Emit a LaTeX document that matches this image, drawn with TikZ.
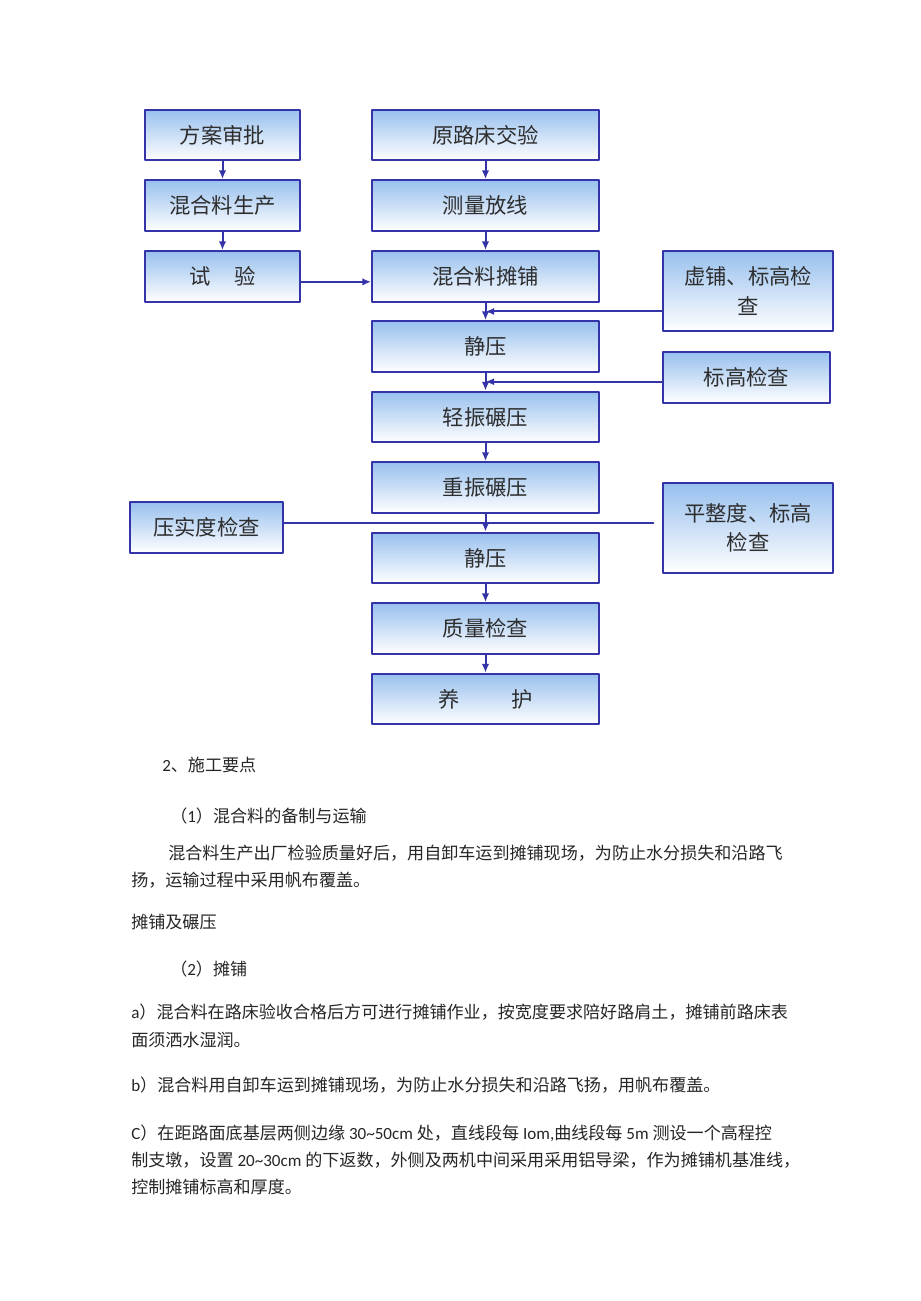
\documentclass[tikz,border=0pt]{standalone}
\usepackage{fontspec}
\setmainfont{Noto Sans CJK SC}
\newfontfamily\lat{Carlito}
\usetikzlibrary{arrows.meta}
\definecolor{kblue}{HTML}{3434A8}
\definecolor{ktop}{HTML}{98C0EE}
\definecolor{ktext}{HTML}{2E2E2E}
\begin{document}
\begin{tikzpicture}[x=.75pt,y=-.75pt,>={Latex[length=6.5pt,width=5.5pt]}, line join=round, line cap=round,
	hop/.style={draw=kblue,line width=1.6pt,top color=ktop,bottom color=white,text=ktext,font=\fontsize{16}{22}\selectfont,inner sep=2pt,align=center},
	mid/.style={hop,minimum width=170pt,minimum height=38pt},
	lft/.style={hop,minimum width=116pt,minimum height=38pt},
	lnk/.style={draw=kblue,line width=1.5pt},
	para/.style={anchor=west,inner sep=0pt,text=black!85,font=\fontsize{12.8}{15}\selectfont}]
	\useasboundingbox[fill=white] (0,0) rectangle (920,1301);
	% left column
	\node[lft] (fa) at (222.5,135) {方案审批};
	\node[lft] (hs) at (222.5,205.5) {混合料生产};
	\node[lft] (sy) at (222.5,276.5) {试\hspace{1.1em}验};
	% main column
	\node[mid] (yl) at (485.5,135) {原路床交验};
	\node[mid] (cl) at (485.5,205.5) {测量放线};
	\node[mid] (tp) at (485.5,276.5) {混合料摊铺};
	\node[mid] (jy1) at (485.5,346.5) {静压};
	\node[mid] (qz) at (485.5,417) {轻振碾压};
	\node[mid] (zz) at (485.5,487.5) {重振碾压};
	\node[mid] (jy2) at (485.5,558) {静压};
	\node[mid] (zl) at (485.5,628.5) {质量检查};
	\node[mid] (yh) at (485.5,699) {养\hspace{2.4em}护};
	% checks
	\node[hop,minimum width=127.5pt,minimum height=60pt] (xp) at (748,291) {虚铺、标高检\\查};
	\node[hop,minimum width=125pt,minimum height=38pt] (bg) at (746.5,377.5) {标高检查};
	\node[hop,minimum width=127.5pt,minimum height=67.5pt] (pz) at (748,528) {平整度、标高\\检查};
	\node[hop,minimum width=115pt,minimum height=38pt] (ys) at (206.5,527.5) {压实度检查};
	% connectors
	\draw[lnk,->] (fa) -- (hs);
	\draw[lnk,->] (hs) -- (sy);
	\draw[lnk,->] ([yshift=-4pt]sy.east) -- ([yshift=-4pt]tp.west);
	\draw[lnk,->] (yl) -- (cl);
	\draw[lnk,->] (cl) -- (tp);
	\draw[lnk,->] (tp) -- (jy1);
	\draw[lnk,->] (jy1) -- (qz);
	\draw[lnk,->] (qz) -- (zz);
	\draw[lnk,->] (zz) -- (jy2);
	\draw[lnk,->] (jy2) -- (zl);
	\draw[lnk,->] (zl) -- (yh);
	\path (tp.south) -- (jy1.north) coordinate[midway] (m1);
	\path (jy1.south) -- (qz.north) coordinate[midway] (m2);
	\path (zz.south) -- (jy2.north) coordinate[midway] (m3);
	\draw[lnk,->] (xp.west |- m1) -- (m1);
	\draw[lnk,->] (bg.west |- m2) -- (m2);
	\draw[lnk,shorten >=6.5pt] (ys.east |- m3) -- (pz.west |- m3);
	% text below
	\node[para] (t1) at (162,765) {{\lat 2}、施工要点};
	\node[para] (t2) at (170,816) {（{\lat 1}）混合料的备制与运输};
	\node[para] (t3) at (168,853) {混合料生产出厂检验质量好后，用自卸车运到摊铺现场，为防止水分损失和沿路飞};
	\node[para] (t4) at (131,880) {扬，运输过程中采用帆布覆盖。};
	\node[para] (t5) at (131,922) {摊铺及碾压};
	\node[para] (t6) at (170,969) {（{\lat 2}）摊铺};
	\node[para] (t7) at (131,1012) {{\lat a}）混合料在路床验收合格后方可进行摊铺作业，按宽度要求陪好路肩土，摊铺前路床表};
	\node[para] (t8) at (131,1040) {面须洒水湿润。};
	\node[para] (t9) at (131,1085) {{\lat b}）混合料用自卸车运到摊铺现场，为防止水分损失和沿路飞扬，用帆布覆盖。};
	\node[para] (t10) at (131,1133) {{\lat C}）在距路面底基层两侧边缘{\lat\ 30\textasciitilde 50cm }处，直线段每{\lat\ Iom,}曲线段每{\lat\ 5m }测设一个高程控};
	\node[para] (t11) at (131,1160) {制支墩，设置{\lat\ 20\textasciitilde 30cm }的下返数，外侧及两机中间采用采用铝导梁，作为摊铺机基准线，};
	\node[para] (t12) at (131,1187) {控制摊铺标高和厚度。};
\end{tikzpicture}
\end{document}
